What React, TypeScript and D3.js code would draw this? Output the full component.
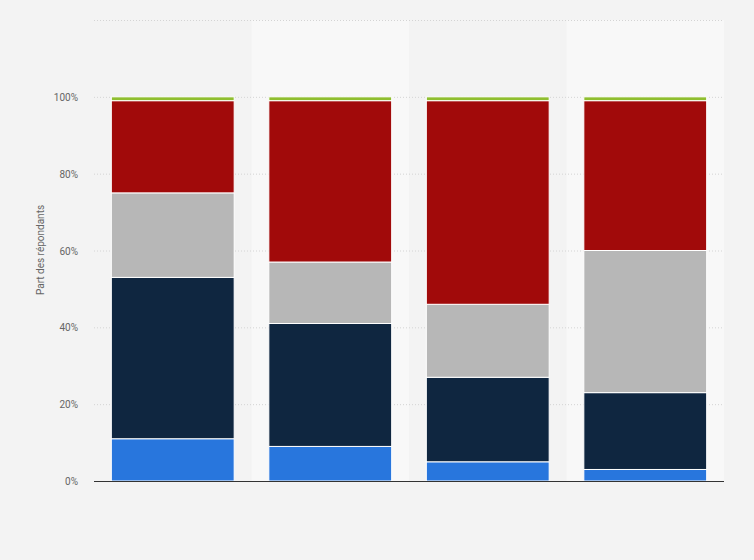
import React from "react";
import * as d3 from "d3";

const categories = ["A", "B", "C", "D"];
const seriesNames = ["s1", "s2", "s3", "s4", "s5"];
const blueVals = [11, 9, 5, 3];
const navyVals = [42, 32, 22, 20];
const grayVals = [22, 16, 19, 37];
const redVals = [24, 42, 53, 39];
const greenVals = [1, 1, 1, 1];
const colors = ["#2876dd", "#0f2640", "#b7b7b7", "#a10a0a", "#8fbe2f"];
const yTicks = [0, 20, 40, 60, 80, 100, 120];

export default function App() {
  const W = 754, H = 560;
  const left = 94, right = 724, top = 20, bottom = 481;
  const x = d3.scaleBand<string>().domain(categories).range([left, right]).paddingInner(0).paddingOuter(0);
  const y = d3.scaleLinear().domain([0, 120]).range([bottom, top]);
  const rows = categories.map((c, i) => ({
    cat: c,
    s1: blueVals[i], s2: navyVals[i], s3: grayVals[i], s4: redVals[i], s5: greenVals[i],
  }));
  const stacked = d3.stack<any>().keys(seriesNames)(rows);
  const bw = x.bandwidth();
  const barW = bw * 0.78;

  return (
    <svg width={W} height={H} style={{ position: "absolute", left: 0, top: 0 }}>
      <rect x={0} y={0} width={W} height={H} fill="#f3f3f3" />
      {categories.map((c, i) =>
        i % 2 === 1 ? (
          <rect key={c} x={x(c)} y={top} width={bw} height={bottom - top} fill="#f8f8f8" />
        ) : null
      )}
      {yTicks.map((t) => (
        <g key={t}>
          {t > 0 && (
            <line x1={left} x2={right} y1={y(t) + 0.5} y2={y(t) + 0.5} stroke="#d4d4d4" strokeDasharray="1,2" />
          )}
          {t <= 100 && (
            <text x={78} y={y(t) + 4} textAnchor="end" fontFamily="Roboto, Arial, sans-serif" fontSize={10} fill="#666">
              {t}%
            </text>
          )}
        </g>
      ))}
      {stacked.map((s, si) => (
        <g key={s.key}>
          {s.map((d, i) => (
            <rect
              key={i}
              x={(x(categories[i]) as number) + (bw - barW) / 2}
              y={y(d[1])}
              width={barW}
              height={y(d[0]) - y(d[1])}
              fill={colors[si]}
              stroke="#ffffff"
              strokeWidth={1}
            />
          ))}
        </g>
      ))}
      <line x1={left} x2={right} y1={bottom + 0.5} y2={bottom + 0.5} stroke="#333" strokeWidth={1} />
      <text
        transform={`translate(44,250) rotate(-90)`}
        textAnchor="middle"
        fontFamily="Roboto, Arial, sans-serif"
        fontSize={10}
        fill="#666"
      >
        Part des répondants
      </text>
    </svg>
  );
}
